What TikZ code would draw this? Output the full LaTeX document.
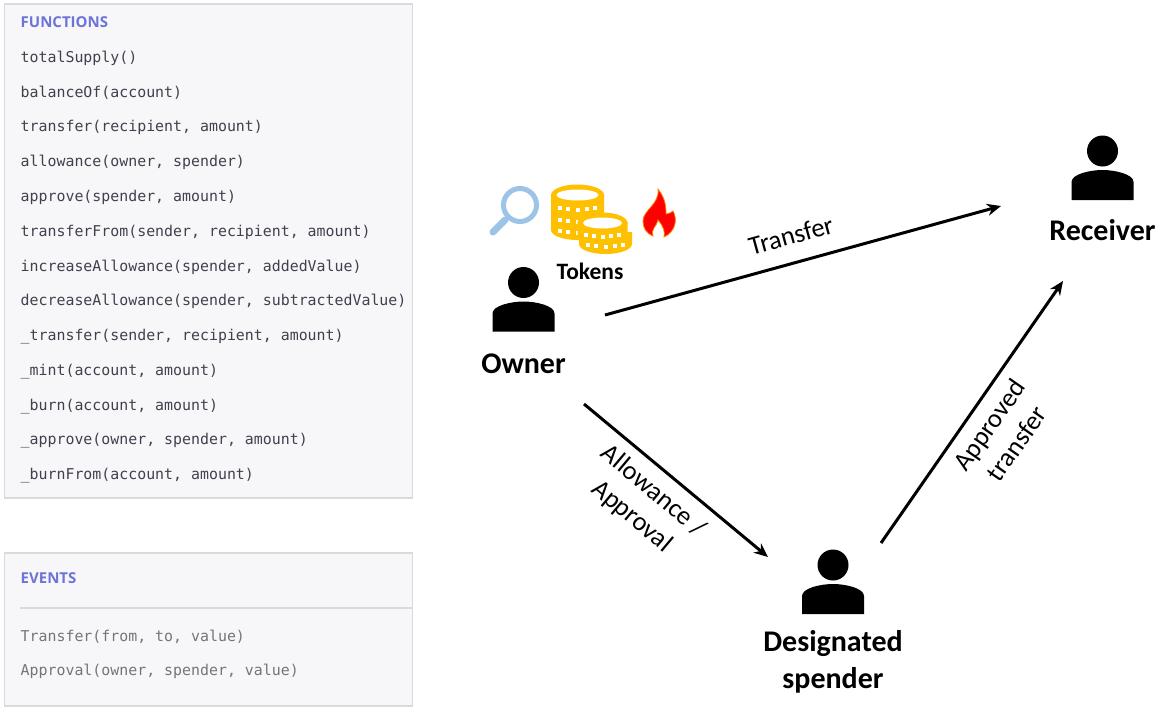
\documentclass[tikz,border=0pt]{standalone}
\usepackage{fontspec}
\setmainfont{Carlito}
\setmonofont{DejaVu Sans Mono}
\newfontfamily\headfont{Open Sans}
\usetikzlibrary{arrows.meta}
\definecolor{boxfill}{HTML}{F7F7FA}
\definecolor{boxline}{HTML}{DADADD}
\definecolor{headblue}{HTML}{6C74D8}
\definecolor{codedark}{HTML}{41414D}
\definecolor{codegray}{HTML}{74747C}
\definecolor{coingold}{HTML}{FFC000}
\definecolor{lensblue}{HTML}{9DC3E6}
\tikzset{
  panel/.style={draw=boxline,fill=boxfill,line width=1.2pt},
  headtext/.style={anchor=west,inner sep=0pt,text=headblue,font=\headfont\bfseries\fontsize{15}{17}\selectfont},
  codetext/.style={anchor=west,inner sep=0pt,text=codedark,font=\ttfamily\fontsize{14.9}{16}\selectfont},
  eventtext/.style={codetext,text=codegray},
  actor/.style={inner sep=0pt,align=center,font=\bfseries\fontsize{30}{37}\selectfont},
  flowtext/.style={inner sep=0pt,align=center,font=\fontsize{26.5}{33}\selectfont},
  flow/.style={line width=3pt,-{Stealth[length=14pt,width=12pt]}},
  person/.pic={
    \fill (0,-49) circle (15.5);
    \fill (-31,0) -- (-31,-18) .. controls (-31,-26) and (-12,-30) .. (0,-30)
      .. controls (12,-30) and (31,-26) .. (31,-18) -- (31,0) -- cycle;
  }
}
\newcommand{\coinbody}[4]{
  \fill[coingold] (#1-#4,#2) -- (#1-#4,#3) arc[start angle=180,end angle=0,x radius=#4,y radius=10]
    -- (#1+#4,#2) -- cycle;
  \foreach \da in {-140,-115,-90,-65,-40}
    \fill[white] ({#1+(#4-4)*cos(\da)-2},{#3-4-7*sin(\da)-2}) rectangle +(4,4);
}
\newcommand{\cointop}[3]{
  \fill[coingold] (#1,#2) ellipse ({#3} and 10.5);
  \fill[white] (#1,#2) ellipse ({#3-5.5} and 5.5);
}
\begin{document}
\begin{tikzpicture}[x=1pt,y=-1pt]
  \useasboundingbox (0,0) rectangle (1158,707);

  \draw[panel] (4.5,4) rectangle (412.5,498);
  \node[headtext] (fnhead) at (20.5,22.5) {FUNCTIONS};
  \foreach \fname [count=\i] in {totalSupply(),balanceOf(account),transfer(recipient{,} amount),
      allowance(owner{,} spender),approve(spender{,} amount),transferFrom(sender{,} recipient{,} amount),
      increaseAllowance(spender{,} addedValue),decreaseAllowance(spender{,} subtractedValue),
      \_transfer(sender{,} recipient{,} amount),\_mint(account{,} amount),\_burn(account{,} amount),
      \_approve(owner{,} spender{,} amount),\_burnFrom(account{,} amount)}
    \node[codetext] (fn\i) at (20.5,23.4+34.8*\i) {\fname};

  \draw[panel] (4.5,553) rectangle (412.5,706);
  \node[headtext] (evhead) at (20.5,578) {EVENTS};
  \draw[boxline,line width=1.2pt] (20,608) -- (412,608);
  \node[eventtext] (ev1) at (20.5,636.5) {Transfer(from, to, value)};
  \node[eventtext] (ev2) at (20.5,671.3) {Approval(owner, spender, value)};

  \pic at (523.5,331.5) {person};
  \pic at (1102.5,200) {person};
  \pic at (833,614) {person};
  \node[actor] (owner) at (523.5,363.5) {Owner};
  \node[actor] (receiver) at (1102.5,230.5) {Receiver};
  \node[actor] (spender) at (833,662) {Designated\\spender};

  \draw[lensblue,line width=5pt] (520,205) circle (16.5);
  \draw[lensblue,line width=7pt,line cap=round] (505,220) -- (493,232);

  \coinbody{577.5}{216}{230}{26.5}
  \coinbody{577.5}{205}{219}{26.5}
  \coinbody{577.5}{195}{207}{26.5}
  \cointop{577.5}{195}{26.5}
  \coinbody{605.5}{232}{244}{26.5}
  \coinbody{602.5}{222}{234}{25}
  \cointop{602.5}{223}{25}
  \node[inner sep=0pt,font=\bfseries\fontsize{23.5}{26}\selectfont] (tokens) at (590,271) {Tokens};

  \fill[red,draw=orange,line width=0.8pt] (658,189) .. controls (664,197) and (666,203) .. (666,214)
    .. controls (669,214) and (672,212) .. (673,211) .. controls (678,220) and (675,232) .. (664,237)
    .. controls (665,232) and (664,227) .. (658,220) .. controls (657,226) and (650,230) .. (653,236)
    .. controls (646,233) and (643,228) .. (643,221) .. controls (643,210) and (660,204) .. (658,189) -- cycle;

  \coordinate (ownerE) at (605,315);
  \coordinate (ownerS) at (584,404);
  \coordinate (receiverW) at (1001,206);
  \coordinate (receiverS) at (1063,281);
  \coordinate (spenderW) at (768,557);
  \coordinate (spenderE) at (881,543);

  \draw[flow] (ownerE) -- (receiverW);
  \draw[flow] (ownerS) -- (spenderW);
  \draw[flow] (spenderE) -- (receiverS);

  \node[flowtext,rotate=15.4] (transferlbl) at (791,235.5) {Transfer};
  \node[flowtext,rotate=-40] (allowlbl) at (642.5,504) {Allowance /\\Approval};
  \node[flowtext,rotate=55] (approvedlbl) at (1003,434) {Approved\\transfer};
\end{tikzpicture}
\end{document}
